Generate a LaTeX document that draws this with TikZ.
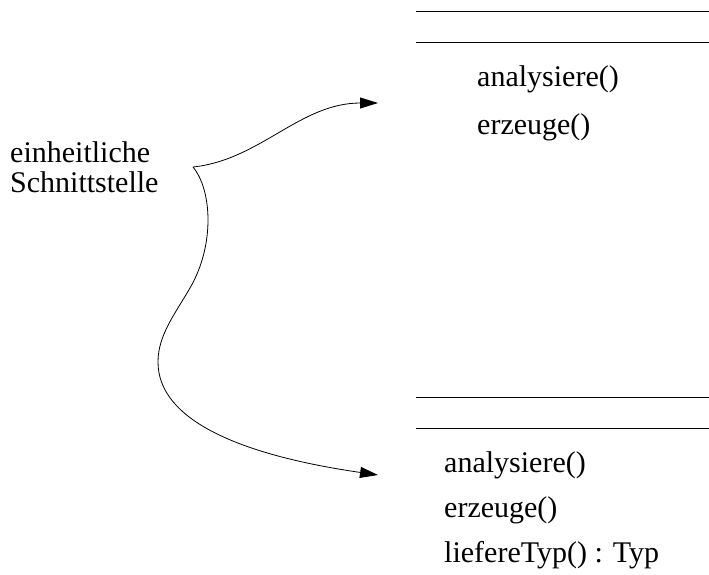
\documentclass[tikz,border=0pt]{standalone}
\usepackage{fontspec}
\setmainfont{Liberation Serif}
\usetikzlibrary{arrows.meta}
\begin{document}
\begin{tikzpicture}[x=1pt,y=-1pt,
  label/.style={anchor=base west,inner sep=0pt,font=\fontsize{30}{31}\selectfont},
  rule/.style={line width=1pt},
  link/.style={line width=0.8pt,-{Triangle[length=18pt,width=11pt]}}]
  \useasboundingbox (0,0) rectangle (709,574);

  % upper class: compartment rules and operations
  \coordinate (a1) at (416,11.5);  \coordinate (a2) at (709,11.5);
  \coordinate (b1) at (416,42);    \coordinate (b2) at (709,42);
  \draw[rule] (a1) -- (a2);
  \draw[rule] (b1) -- (b2);
  \node[label] (opA1) at (477,86) {analysiere()};
  \node[label] (opA2) at (477,134) {erzeuge()};

  % lower class: compartment rules and operations
  \coordinate (c1) at (416,397);   \coordinate (c2) at (709,397);
  \coordinate (d1) at (416,428);   \coordinate (d2) at (709,428);
  \draw[rule] (c1) -- (c2);
  \draw[rule] (d1) -- (d2);
  \node[label] (opB1) at (444,472) {analysiere()};
  \node[label] (opB2) at (444,517) {erzeuge()};
  \node[label] (opB3) at (444,562) {liefereTyp() : Typ};

  % annotation
  \node[label] (note1) at (10,162) {einheitliche};
  \node[label] (note2) at (10,192) {Schnittstelle};

  % curved pointers from the annotation to both classes
  \coordinate (cusp) at (193,167);
  \coordinate (tgtA) at (378,103);
  \coordinate (tgtB) at (378,475);
  \draw[link] (cusp) .. controls (260,160) and (300,103) .. (tgtA);
  \draw[link] (cusp) .. controls (212,190) and (215,245) .. (190,288)
                    .. controls (175,314) and (158,335) .. (158,362)
                    .. controls (158,420) and (240,455) .. (tgtB);
\end{tikzpicture}
\end{document}
